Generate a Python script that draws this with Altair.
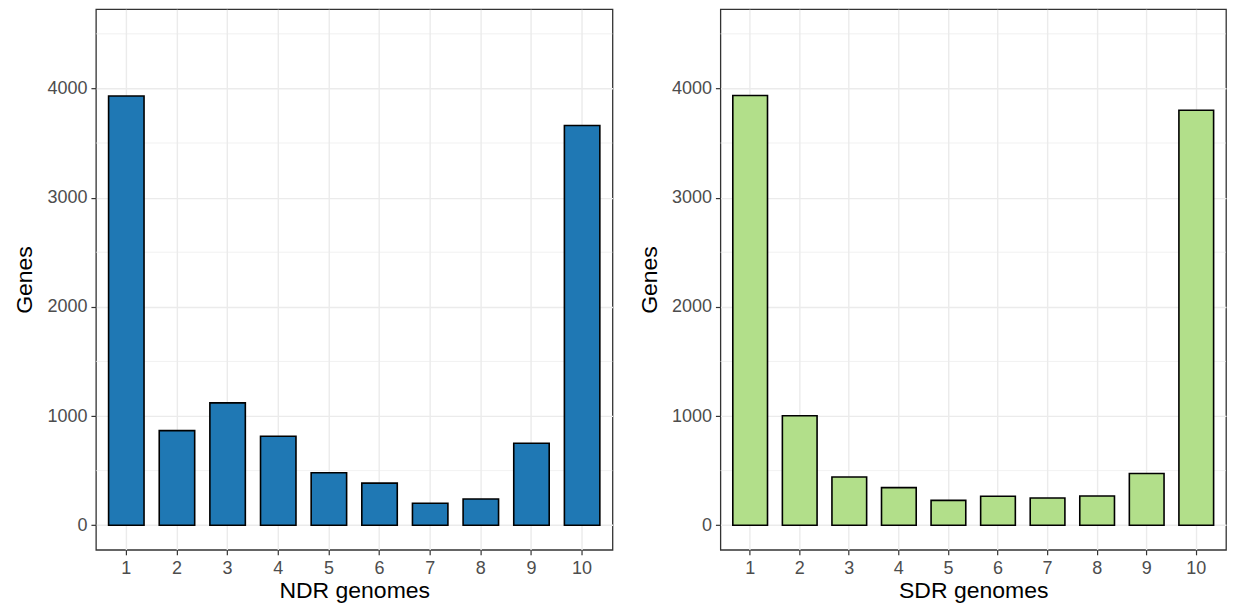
import altair as alt
import pandas as pd

genomes = list(range(1, 11))
ndr_genes = [3930, 866, 1120, 815, 481, 386, 201, 240, 751, 3660]
sdr_genes = [3935, 1003, 441, 344, 228, 265, 249, 268, 474, 3800]
major_breaks = [0, 1000, 2000, 3000, 4000]
minor_breaks = [500, 1500, 2500, 3500, 4500]

FONT = "Liberation Sans"
LABEL_SIZE = 18
TITLE_SIZE = 23


def panel(values, color, xtitle, width):
    df = pd.DataFrame({"genomes": genomes, "genes": values})
    minor = pd.DataFrame({"genes": minor_breaks})
    yscale = alt.Scale(domain=[-225, 4725], nice=False, zero=False)
    xscale = alt.Scale(paddingInner=0.3, paddingOuter=0.25)
    yaxis = alt.Axis(title="Genes", values=major_breaks, format="d", titlePadding=10)
    rules = alt.Chart(minor).mark_rule(color="#EBEBEB", strokeWidth=0.7).encode(
        y=alt.Y("genes:Q", scale=yscale, axis=yaxis)
    )
    bars = alt.Chart(df).mark_bar(fill=color, stroke="black", strokeWidth=1.6).encode(
        x=alt.X(
            "genomes:O",
            scale=xscale,
            axis=alt.Axis(title=xtitle, labelAngle=0, labelPadding=5, titlePadding=2),
        ),
        y=alt.Y("genes:Q", scale=yscale, axis=yaxis),
    )
    return alt.layer(rules, bars).properties(width=width, height=541)


left = panel(ndr_genes, "#1F78B4", "NDR genomes", 517)
right = panel(sdr_genes, "#B2DF8A", "SDR genomes", 506)

chart = (
    alt.hconcat(left, right, spacing=24)
    .properties(padding={"left": 5, "top": 0, "right": 0, "bottom": 0}, background="white")
    .configure_view(stroke="#333333", strokeWidth=1.3)
    .configure_axis(
        domain=False,
        ticks=True,
        tickColor="#333333",
        tickSize=5,
        tickWidth=1.2,
        grid=True,
        gridColor="#EBEBEB",
        gridWidth=1.4,
        labelFont=FONT,
        labelFontSize=LABEL_SIZE,
        labelColor="#4D4D4D",
        labelPadding=4,
        titleFont=FONT,
        titleFontSize=TITLE_SIZE,
        titleFontWeight="normal",
        titleColor="black",
    )
)

chart.save("out.html", embed_options={"renderer": "svg", "actions": False})
